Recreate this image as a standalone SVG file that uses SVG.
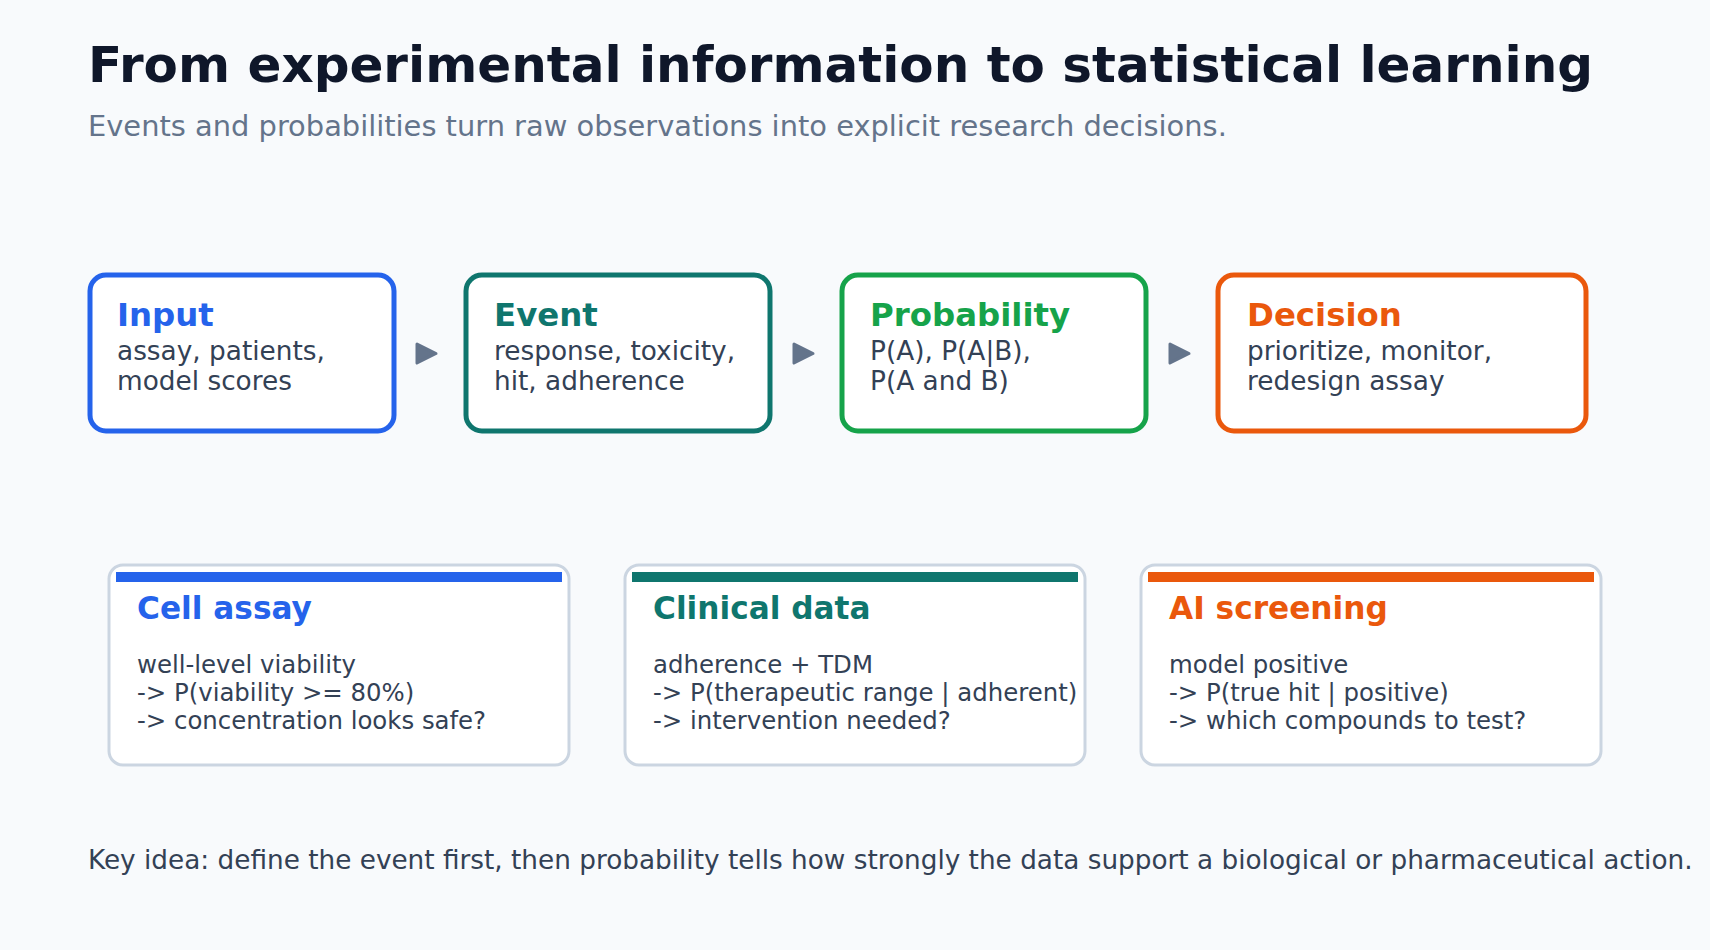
<svg xmlns="http://www.w3.org/2000/svg" width="1710" height="950" viewBox="0 0 1710 950">
<defs>
<style>
text{font-family:"DejaVu Sans","Liberation Sans",sans-serif}
.title{font-size:50px;font-weight:bold;fill:#0f172a}
.sub{font-size:28.9px;fill:#64748b}
.box{fill:#ffffff;stroke-width:5}
.bt{font-size:32.4px;font-weight:bold}
.body{font-size:26.35px;fill:#334155}
.card{fill:#ffffff;stroke:#cbd5e1;stroke-width:3}
.ct{font-size:31.2px;font-weight:bold}
.cb{font-size:24.4px;fill:#334155}
.arrow{fill:#64748b;stroke:#64748b;stroke-width:3;stroke-linejoin:round}
.foot{font-size:26.3px;fill:#334155}
</style>
</defs>
<rect x="0" y="0" width="1710" height="950" fill="#f8fafc"/>
<text class="title" x="88" y="82">From experimental information to statistical learning</text>
<text class="sub" x="88" y="136">Events and probabilities turn raw observations into explicit research decisions.</text>

<g id="node-input">
<rect class="box" x="90" y="275" width="304" height="156" rx="16" stroke="#2563eb"/>
<text class="bt" x="117" y="326" fill="#2563eb">Input</text>
<text class="body" x="117" y="360">assay, patients,</text>
<text class="body" x="117" y="390">model scores</text>
</g>
<g id="node-event">
<rect class="box" x="466" y="275" width="304" height="156" rx="16" stroke="#0f766e"/>
<text class="bt" x="494" y="326" fill="#0f766e">Event</text>
<text class="body" x="494" y="360">response, toxicity,</text>
<text class="body" x="494" y="390">hit, adherence</text>
</g>
<g id="node-probability">
<rect class="box" x="842" y="275" width="304" height="156" rx="16" stroke="#16a34a"/>
<text class="bt" x="870" y="326" fill="#16a34a">Probability</text>
<text class="body" x="870" y="360">P(A), P(A|B),</text>
<text class="body" x="870" y="390">P(A and B)</text>
</g>
<g id="node-decision">
<rect class="box" x="1218" y="275" width="368" height="156" rx="16" stroke="#ea580c"/>
<text class="bt" x="1247" y="326" fill="#ea580c">Decision</text>
<text class="body" x="1247" y="360">prioritize, monitor,</text>
<text class="body" x="1247" y="390">redesign assay</text>
</g>

<g id="connectors">
<path class="arrow" d="M417,344 L436,353.5 L417,363 Z"/>
<path class="arrow" d="M794,344 L813,353.5 L794,363 Z"/>
<path class="arrow" d="M1170,344 L1189,353.5 L1170,363 Z"/>
</g>

<g id="card-cell">
<rect class="card" x="109" y="565" width="460" height="200" rx="14"/>
<rect x="116" y="572" width="446" height="10" fill="#2563eb"/>
<text class="ct" x="137" y="619" fill="#2563eb">Cell assay</text>
<text class="cb" x="137" y="673">well-level viability</text>
<text class="cb" x="137" y="701">-&gt; P(viability &gt;= 80%)</text>
<text class="cb" x="137" y="729">-&gt; concentration looks safe?</text>
</g>
<g id="card-clinical">
<rect class="card" x="625" y="565" width="460" height="200" rx="14"/>
<rect x="632" y="572" width="446" height="10" fill="#0f766e"/>
<text class="ct" x="653" y="619" fill="#0f766e">Clinical data</text>
<text class="cb" x="653" y="673">adherence + TDM</text>
<text class="cb" x="653" y="701">-&gt; P(therapeutic range | adherent)</text>
<text class="cb" x="653" y="729">-&gt; intervention needed?</text>
</g>
<g id="card-ai">
<rect class="card" x="1141" y="565" width="460" height="200" rx="14"/>
<rect x="1148" y="572" width="446" height="10" fill="#ea580c"/>
<text class="ct" x="1169" y="619" fill="#ea580c">AI screening</text>
<text class="cb" x="1169" y="673">model positive</text>
<text class="cb" x="1169" y="701">-&gt; P(true hit | positive)</text>
<text class="cb" x="1169" y="729">-&gt; which compounds to test?</text>
</g>

<text class="foot" x="88" y="869">Key idea: define the event first, then probability tells how strongly the data support a biological or pharmaceutical action.</text>
</svg>
